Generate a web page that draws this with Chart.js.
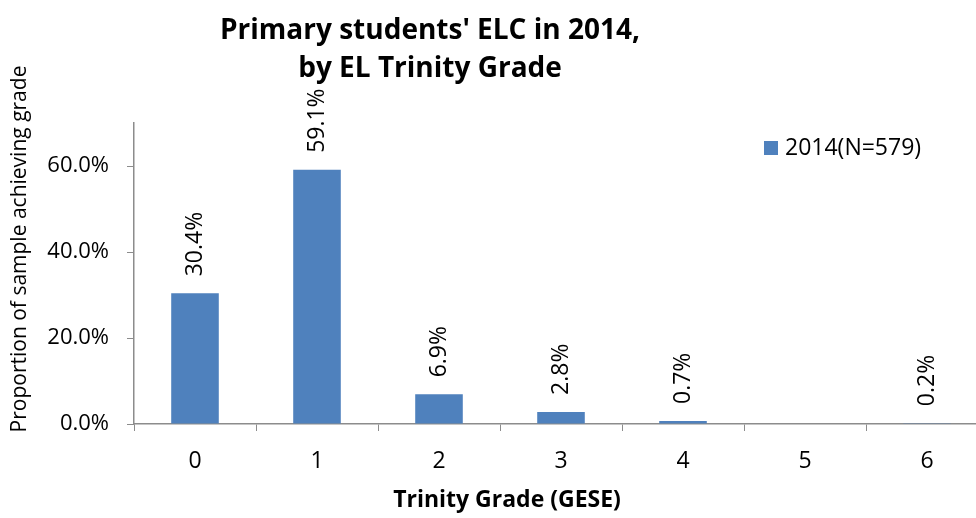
<!DOCTYPE html>
<html>
<head>
<meta charset="utf-8">
<script src="https://cdn.jsdelivr.net/npm/chart.js@4"></script>
<style>
  html, body { margin: 0; padding: 0; background: #fff; overflow: hidden; }
  #wrap { position: relative; width: 990px; height: 518px; }
</style>
</head>
<body>
<div id="wrap"><canvas id="gradeChart"></canvas></div>
<script>
const grades = ['0', '1', '2', '3', '4', '5', '6'];
const share2014 = [30.4, 59.1, 6.9, 2.8, 0.7, null, 0.2];
const seriesLabel = '2014(N=579)';
const titleLines = ["Primary students' ELC in 2014,", 'by EL Trinity Grade'];
const xTitle = 'Trinity Grade (GESE)';
const yTitle = 'Proportion of sample achieving grade';

const FONT = "'Open Sans', sans-serif";
const BAR = '#4F81BD';
const AXIS = '#8c8c8c';

// titles, legend and rotated value labels
const decorPlugin = {
    id: 'decor',
    afterDraw(chart) {
        const ctx = chart.ctx;
        ctx.save();
        ctx.fillStyle = '#000';
        ctx.textAlign = 'center';
        ctx.textBaseline = 'middle';
        ctx.font = 'bold 28px ' + FONT;
        ctx.fillText(titleLines[0], 430, 31);
        ctx.fillText(titleLines[1], 430, 69);

        ctx.font = 'bold 23px ' + FONT;
        ctx.fillText(xTitle, 507, 500);

        ctx.save();
        ctx.translate(20, 249);
        ctx.rotate(-Math.PI / 2);
        ctx.font = '21px ' + FONT;
        ctx.fillText(yTitle, 0, 0);
        ctx.restore();

        // legend
        ctx.fillStyle = BAR;
        ctx.fillRect(764, 141, 14, 14);
        ctx.fillStyle = '#000';
        ctx.textAlign = 'left';
        ctx.font = '23px ' + FONT;
        ctx.fillText(seriesLabel, 785, 148);

        // value labels
        const meta = chart.getDatasetMeta(0);
        ctx.font = '23px ' + FONT;
        meta.data.forEach((bar, i) => {
            const v = share2014[i];
            if (v == null) return;
            ctx.save();
            ctx.translate(bar.x, bar.y - 17);
            ctx.rotate(-Math.PI / 2);
            ctx.textAlign = 'left';
            ctx.textBaseline = 'middle';
            ctx.fillText(v.toFixed(1) + '%', 0, 0);
            ctx.restore();
        });
        ctx.restore();
    }
};

new Chart(document.getElementById('gradeChart'), {
    type: 'bar',
    data: {
        labels: grades,
        datasets: [{
            label: seriesLabel,
            data: share2014,
            backgroundColor: BAR,
            borderWidth: 0,
            barPercentage: 0.39,
            categoryPercentage: 1
        }]
    },
    options: {
        responsive: true,
        maintainAspectRatio: false,
        animation: false,
        layout: { padding: { left: 0, top: 123, right: 2, bottom: 0 } },
        plugins: {
            legend: { display: false },
            title: { display: false },
            tooltip: { enabled: false }
        },
        scales: {
            x: {
                offset: true,
                afterFit: (s) => { s.height = 94; },
                grid: { offset: true, drawOnChartArea: false, drawTicks: true, tickLength: 7, color: AXIS },
                border: { color: AXIS, width: 1.5 },
                ticks: { color: '#000', padding: 17, font: { family: FONT, size: 23 } }
            },
            y: {
                min: 0,
                max: 70,
                afterFit: (s) => { s.width = 134; },
                grid: { drawOnChartArea: false, drawTicks: true, tickLength: 7, color: AXIS },
                border: { color: AXIS, width: 1.5 },
                ticks: {
                    stepSize: 20,
                    includeBounds: false,
                    color: '#000',
                    padding: 18,
                    font: { family: FONT, size: 22 },
                    callback: (v) => v.toFixed(1) + '%'
                }
            }
        }
    },
    plugins: [decorPlugin]
});
</script>
</body>
</html>
